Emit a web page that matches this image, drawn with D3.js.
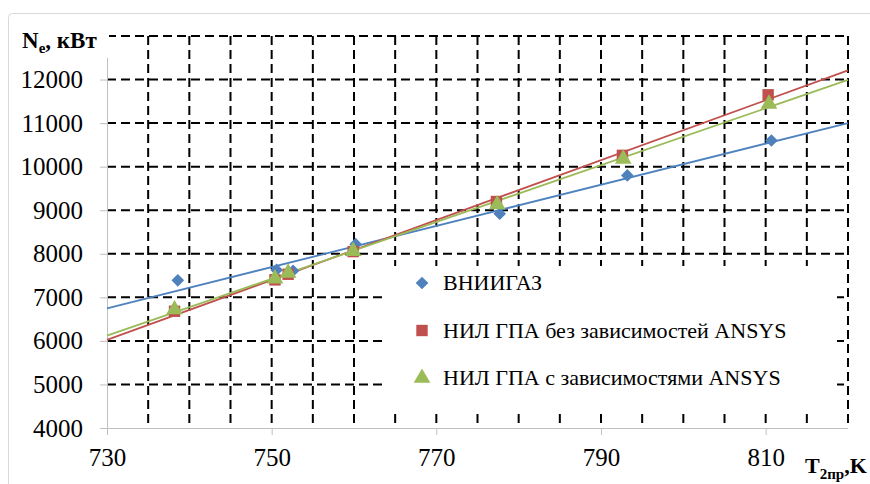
<!DOCTYPE html>
<html>
<head>
<meta charset="utf-8">
<script src="https://cdn.jsdelivr.net/npm/d3@7"></script>
<style>
  body { margin: 0; background: #fff; }
  svg text { font-family: "Liberation Serif", "Tinos", "Times New Roman", "DejaVu Serif", serif; }
</style>
</head>
<body>
<div id="chart"></div>
<script>
// Chart data
const xTicks = [730, 750, 770, 790, 810];
const yTicks = [4000, 5000, 6000, 7000, 8000, 9000, 10000, 11000, 12000];
const seriesNames = ["ВНИИГАЗ",
                     "НИЛ ГПА без зависимостей ANSYS",
                     "НИЛ ГПА с зависимостями ANSYS"];
const seriesColors = ["#4F81BD", "#C0504D", "#9BBB59"];
const vniigazT = [738.6, 750.6, 752.6, 760.2, 777.7, 793.2, 810.7];
const vniigazN = [7390, 7630, 7610, 8220, 8920, 9800, 10600];
const nilNoAnsysT = [738.2, 750.4, 752.0, 759.9, 777.3, 792.6, 810.3];
const nilNoAnsysN = [6680, 7400, 7530, 8050, 9200, 10260, 11650];
const nilAnsysT = [738.2, 750.4, 752.0, 759.9, 777.4, 792.7, 810.4];
const nilAnsysN = [6720, 7430, 7560, 8060, 9130, 10180, 11440];

const seriesT = [vniigazT, nilNoAnsysT, nilAnsysT];
const seriesN = [vniigazN, nilNoAnsysN, nilAnsysN];
const markerTypes = ["diamond", "square", "triangle"];

// least squares line, like the Excel trendline
function linearFit(xs, ys) {
    const mx = d3.mean(xs), my = d3.mean(ys);
    let sxy = 0, sxx = 0;
    xs.forEach((x, i) => {
        sxy += (x - mx) * (ys[i] - my);
        sxx += (x - mx) * (x - mx);
    });
    const slope = sxy / sxx;
    return x => my + slope * (x - mx);
}

function markerPath(type) {
    switch (type) {
        case "diamond":
            return d3.symbol().type(d3.symbolSquare).size(80)();
        case "square":
            return d3.symbol().type(d3.symbolSquare).size(130)();
        default:
            return d3.symbol().type(d3.symbolTriangle).size(120)();
    }
}

function markerRotate(type) {
    return type === "diamond" ? " rotate(45)" : "";
}

function drawChart() {
    const width = 870, height = 484;
    const margin = {top: 36, right: 22, bottom: 56, left: 107};
    const plotW = width - margin.left - margin.right;
    const plotH = height - margin.top - margin.bottom;

    const svg = d3.select("#chart").html("")
        .append("svg")
        .attr("width", width)
        .attr("height", height);

    // outer chart border
    svg.append("rect")
        .attr("x", 8.5).attr("y", 13.5)
        .attr("width", 900).attr("height", 500)
        .attr("rx", 4)
        .attr("fill", "#fff")
        .attr("stroke", "#d9d9d9");

    const g = svg.append("g")
        .attr("transform", `translate(${margin.left}, ${margin.top})`);

    const xScale = d3.scaleLinear().domain([730, 820]).range([0, plotW]);
    const yScale = d3.scaleLinear().domain([4000, 13000]).range([plotH, 0]);

    // dashed grid
    const gridStyle = sel => sel
        .attr("stroke", "#000")
        .attr("stroke-width", 2)
        .attr("stroke-dasharray", "9,5");

    g.append("g").selectAll("line")
        .data(d3.range(5000, 13001, 1000))
        .enter().append("line")
        .attr("x1", 0).attr("x2", plotW)
        .attr("y1", d => yScale(d)).attr("y2", d => yScale(d))
        .call(gridStyle);

    g.append("g").selectAll("line")
        .data(d3.range(735, 821, 5))
        .enter().append("line")
        .attr("x1", d => xScale(d)).attr("x2", d => xScale(d))
        .attr("y1", 0).attr("y2", plotH)
        .call(gridStyle);

    // axes
    const xAxis = d3.axisBottom(xScale).tickValues(xTicks).tickFormat(d3.format("d"))
        .tickSize(7).tickPadding(13);
    const yAxis = d3.axisLeft(yScale).tickValues(yTicks).tickFormat(d3.format("d"))
        .tickSize(7).tickPadding(17);

    const xg = g.append("g")
        .attr("transform", `translate(0, ${plotH})`)
        .call(xAxis)
        .attr("font-family", null);
    xg.select(".domain").attr("stroke", "#bfbfbf").attr("d", `M0,0.5H${plotW}`);
    xg.selectAll(".tick line").attr("stroke", "#bfbfbf");
    xg.selectAll("text")
        .attr("font-size", 25)
        .attr("fill", "#000");

    const yg = g.append("g").call(yAxis)
        .attr("font-family", null);
    yg.select(".domain").attr("stroke", "#bfbfbf").attr("d", `M0.5,${plotH}V0`);
    yg.selectAll(".tick line").attr("stroke", "#bfbfbf");
    yg.selectAll("text")
        .attr("font-size", 25)
        .attr("fill", "#000");

    // trend lines
    seriesT.forEach((ts, i) => {
        const fit = linearFit(ts, seriesN[i]);
        g.append("line")
            .attr("x1", xScale(730)).attr("y1", yScale(fit(730)))
            .attr("x2", xScale(820)).attr("y2", yScale(fit(820)))
            .attr("stroke", seriesColors[i])
            .attr("stroke-width", 1.8);
    });

    // markers
    seriesT.forEach((ts, i) => {
        g.append("g").selectAll("path")
            .data(ts.map((t, j) => [t, seriesN[i][j]]))
            .enter().append("path")
            .attr("transform", d => `translate(${xScale(d[0])}, ${yScale(d[1])})${markerRotate(markerTypes[i])}`)
            .attr("d", markerPath(markerTypes[i]))
            .attr("fill", seriesColors[i]);
    });

    // y title with white box behind it
    svg.append("rect")
        .attr("x", 16).attr("y", 24)
        .attr("width", 93).attr("height", 34)
        .attr("fill", "#fff");
    const yTitle = svg.append("text")
        .attr("x", 22).attr("y", 48)
        .attr("font-size", 23)
        .attr("font-weight", "bold");
    yTitle.append("tspan").text("N");
    yTitle.append("tspan").attr("font-size", 15).attr("dy", 5).text("e");
    yTitle.append("tspan").attr("dy", -5).text(", кВт");

    // x title
    const xTitle = svg.append("text")
        .attr("x", 805).attr("y", 473)
        .attr("font-size", 22)
        .attr("font-weight", "bold");
    xTitle.append("tspan").text("T");
    xTitle.append("tspan").attr("font-size", 15).attr("dy", 6).text("2пр");
    xTitle.append("tspan").attr("dy", -6).text(",K");

    // legend
    const legend = svg.append("g");
    legend.append("rect")
        .attr("x", 384).attr("y", 266)
        .attr("width", 453).attr("height", 148)
        .attr("fill", "#fff");
    seriesNames.forEach((name, i) => {
        const cy = 283 + i * 47.5;
        legend.append("path")
            .attr("transform", `translate(422, ${cy})${markerRotate(markerTypes[i])}`)
            .attr("d", markerPath(markerTypes[i]))
            .attr("fill", seriesColors[i]);
        legend.append("text")
            .attr("x", 443).attr("y", cy + 7)
            .attr("font-size", 22)
            .text(name);
    });
}

drawChart();
</script>
</body>
</html>
